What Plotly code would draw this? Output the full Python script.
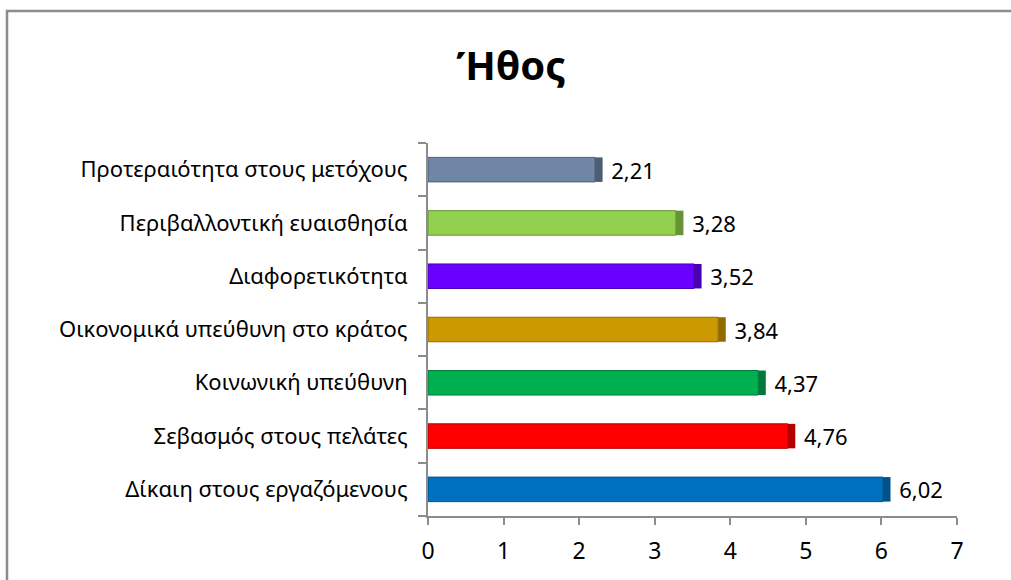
import plotly.graph_objects as go

# Scores per ethical dimension (bottom to top)
categories = [
    "Δίκαιη στους εργαζόμενους",
    "Σεβασμός στους πελάτες",
    "Κοινωνική υπεύθυνη",
    "Οικονομικά υπεύθυνη στο κράτος",
    "Διαφορετικότητα",
    "Περιβαλλοντική ευαισθησία",
    "Προτεραιότητα στους μετόχους",
]
scores = [6.02, 4.76, 4.37, 3.84, 3.52, 3.28, 2.21]
bar_colors = ["#0070c0", "#ff0000", "#00b050", "#cc9900", "#6a00ff", "#92d050", "#6f86a6"]
edge_colors = ["#00508c", "#b30000", "#007a38", "#8f6b00", "#4a00b3", "#679236", "#4d5e74"]
x_ticks = [0, 1, 2, 3, 4, 5, 6, 7]

FONT = "Noto Sans, sans-serif"
W, H = 1011, 580
L, R, T, B = 428, 54, 143, 64
pw, ph = W - L - R, H - T - B
DEPTH = 0.1  # thickness of the shaded end face, in axis units
BAR_W = 0.46


def px_to_paper_x(px):
    return (px - L) / pw


def px_to_paper_y(py):
    return (H - B - py) / ph


fig = go.Figure()

# front faces
fig.add_trace(
    go.Bar(
        x=scores,
        y=categories,
        orientation="h",
        width=BAR_W,
        marker=dict(color=bar_colors, line=dict(color=edge_colors, width=1)),
        hoverinfo="skip",
    )
)

# darker end faces, carrying the value labels
fig.add_trace(
    go.Bar(
        x=[DEPTH] * len(scores),
        base=scores,
        y=categories,
        orientation="h",
        width=BAR_W,
        customdata=scores,
        marker=dict(color=edge_colors, line=dict(width=0)),
        texttemplate="&nbsp;%{customdata:.2f}",
        textposition="outside",
        constraintext="none",
        textfont=dict(family=FONT, size=22, color="#000000"),
        cliponaxis=False,
        hoverinfo="skip",
    )
)

fig.update_layout(
    width=W,
    height=H,
    margin=dict(l=L, r=R, t=T, b=B),
    paper_bgcolor="white",
    plot_bgcolor="white",
    separators=",.",
    showlegend=False,
    barmode="overlay",
    title=dict(
        text="<b>Ήθος</b>",
        x=px_to_paper_x(511),
        xref="paper",
        xanchor="center",
        y=1 - 66 / H,
        yanchor="middle",
        font=dict(family=FONT, size=40, color="#000000"),
    ),
    xaxis=dict(
        range=[0, 7],
        tickvals=x_ticks,
        ticktext=[str(v) for v in x_ticks],
        showgrid=False,
        zeroline=False,
        showline=True,
        linecolor="#8c8c8c",
        linewidth=2,
        ticks="outside",
        ticklen=7,
        tickwidth=2,
        tickcolor="#8c8c8c",
        ticklabelstandoff=6,
        tickfont=dict(family=FONT, size=23, color="#000000"),
        fixedrange=True,
    ),
    yaxis=dict(
        type="category",
        categoryorder="array",
        categoryarray=categories,
        showgrid=False,
        showline=True,
        linecolor="#8c8c8c",
        linewidth=2,
        ticks="outside",
        tickson="boundaries",
        ticklen=8,
        tickwidth=2,
        tickcolor="#8c8c8c",
        ticklabelstandoff=14,
        tickfont=dict(family=FONT, size=22, color="#000000"),
        fixedrange=True,
    ),
    shapes=[
        dict(
            type="rect",
            xref="paper",
            yref="paper",
            x0=px_to_paper_x(7),
            y0=px_to_paper_y(H + 20),
            x1=px_to_paper_x(W + 20),
            y1=px_to_paper_y(11),
            line=dict(color="#8c8c8c", width=2.5),
            fillcolor="rgba(0,0,0,0)",
            layer="below",
        )
    ],
)

fig.write_html("out.html")
